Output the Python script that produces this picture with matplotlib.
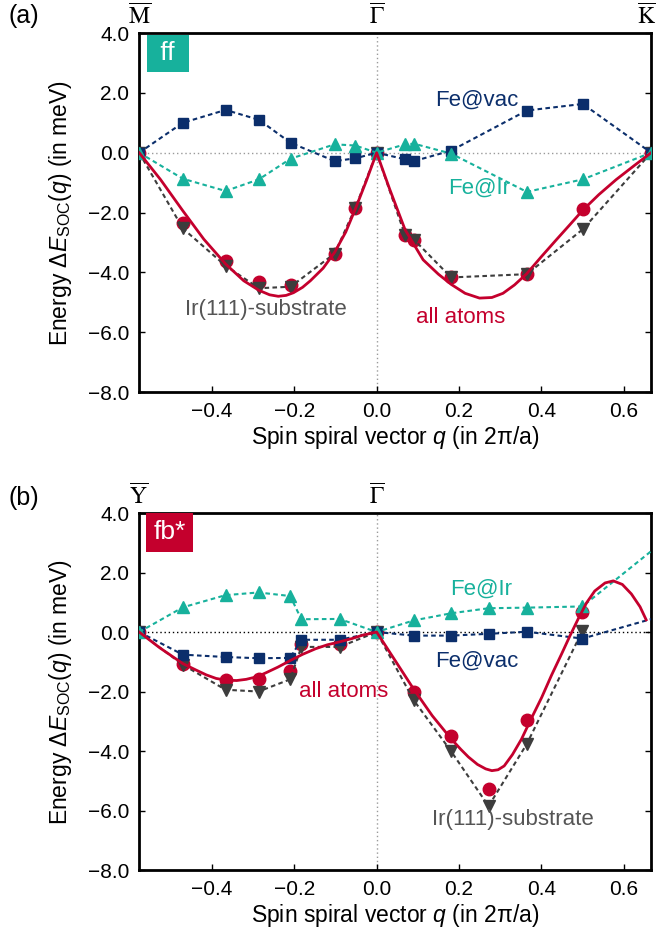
import numpy as np
import matplotlib.pyplot as plt

plt.rcParams['font.family'] = ['Liberation Sans', 'DejaVu Sans']
plt.rcParams['mathtext.fontset'] = 'custom'
plt.rcParams['mathtext.rm'] = 'Liberation Sans'
plt.rcParams['mathtext.it'] = 'Liberation Sans:italic'

c_vac = '#0b2e6b'
c_ir = '#17b19c'
c_sub = '#3d3d3d'
c_all = '#c4002d'

# ---- panel (a): ff ----
qa = [-0.577, -0.471, -0.367, -0.286, -0.209, -0.102, -0.052, 0.0,
      0.069, 0.091, 0.181, 0.365, 0.501, 0.667]
a_vac = [0.0, 1.0, 1.43, 1.1, 0.33, -0.28, -0.19, 0.0,
         -0.22, -0.28, 0.07, 1.41, 1.63, 0.0]
a_ir = [0.0, -0.87, -1.28, -0.89, -0.2, 0.28, 0.24, 0.0,
        0.28, 0.3, -0.03, -1.31, -0.89, 0.0]
a_sub = [0.0, -2.53, -3.78, -4.53, -4.48, -3.37, -1.85, 0.0,
         -2.76, -2.91, -4.17, -4.06, -2.56, 0.0]
a_all = [0.0, -2.36, -3.61, -4.33, -4.42, -3.39, -1.85, 0.0,
         -2.76, -2.91, -4.17, -4.06, -1.87, 0.0]
# fit curve
a_fit_q = [-0.577, -0.525, -0.471, -0.42, -0.367, -0.323, -0.286, -0.26,
           -0.239, -0.22, -0.202, -0.18, -0.161, -0.13, -0.102, -0.075,
           -0.052, -0.025, 0.0,
           0.032, 0.069, 0.113, 0.15, 0.181, 0.215, 0.25, 0.28, 0.307,
           0.335, 0.365, 0.4, 0.436, 0.47, 0.501, 0.54, 0.582, 0.625, 0.667]
a_fit_e = [0.0, -0.9, -1.94, -2.89, -3.72, -4.28, -4.6, -4.75,
           -4.8, -4.77, -4.68, -4.5, -4.28, -3.86, -3.33, -2.65,
           -1.89, -0.94, 0.0,
           -1.23, -2.57, -3.58, -4.06, -4.4, -4.7, -4.86, -4.84, -4.7,
           -4.42, -4.04, -3.48, -2.92, -2.4, -1.92, -1.4, -0.9, -0.44, 0.0]

# ---- panel (b): fb* ----
qb = [-0.577, -0.471, -0.367, -0.287, -0.21, -0.183, -0.09, 0.0,
      0.09, 0.181, 0.272, 0.365, 0.5]
b_vac = [0.0, -0.76, -0.84, -0.88, -0.87, -0.26, -0.26, 0.0,
         -0.12, -0.12, -0.06, 0.01, -0.22]
b_ir = [0.0, 0.83, 1.24, 1.33, 1.21, 0.43, 0.44, 0.0,
        0.39, 0.63, 0.8, 0.82, 0.86]
b_sub = [0.0, -1.1, -1.94, -2.0, -1.59, -0.5, -0.5, 0.0,
         -2.29, -4.01, -5.85, -3.76, 0.04]
b_all = [0.0, -1.06, -1.61, -1.59, -1.31, -0.39, -0.39, 0.0,
         -2.0, -3.51, -5.26, -2.96, 0.66]
# next points lie outside the plotted range
qb_ext = [0.75]
b_vac_ext = [0.76]
b_ir_ext = [3.64]
b_fit_q = [-0.577, -0.527, -0.471, -0.44, -0.414, -0.39, -0.365, -0.34,
           -0.317, -0.29, -0.269, -0.24, -0.21, -0.18, -0.148, -0.12,
           -0.09, -0.06, -0.035, 0.0,
           0.046, 0.09, 0.135, 0.181, 0.205, 0.223, 0.245, 0.265, 0.28,
           0.295, 0.31, 0.33, 0.352, 0.375, 0.401, 0.425, 0.45, 0.47, 0.49,
           0.51, 0.53, 0.555, 0.575, 0.597, 0.619, 0.64, 0.655]
b_fit_e = [0.0, -0.53, -1.06, -1.27, -1.44, -1.56, -1.62, -1.63,
           -1.59, -1.5, -1.37, -1.18, -0.96, -0.75, -0.56, -0.43,
           -0.33, -0.22, -0.11, 0.0,
           -0.98, -1.92, -2.81, -3.59, -3.95, -4.2, -4.45, -4.6, -4.66,
           -4.63, -4.5, -4.12, -3.6, -2.93, -2.2, -1.45, -0.72, -0.12, 0.45,
           0.98, 1.38, 1.65, 1.72, 1.6, 1.28, 0.85, 0.41]

fig = plt.figure(figsize=(6.56, 9.52), dpi=100)
axa = fig.add_axes([0.2119, 0.5882, 0.7805, 0.3771])
axb = fig.add_axes([0.2119, 0.0861, 0.7805, 0.3750])

dash = (0, (2.2, 1.6))


def series(ax, q, e, color, marker, ms, z):
    ax.plot(q, e, linestyle=dash, color=color, lw=1.5, marker=marker,
            ms=ms, mec=color, mfc=color, zorder=z)


def style(ax, top_labels, top_pos, zero_color):
    ax.set_xlim(-0.5774, 0.6667)
    ax.set_ylim(-8, 4)
    ax.axvline(0, color='#9a9a9a', ls=(0, (1, 2)), lw=1, zorder=1)
    ax.axhline(0, color=zero_color, ls=(0, (1, 2)), lw=1, zorder=1)
    ax.set_xticks([-0.4, -0.2, 0.0, 0.2, 0.4, 0.6])
    ax.set_xticklabels(['\u22120.4', '\u22120.2', '0.0', '0.2', '0.4', '0.6'])
    yt = [4, 2, 0, -2, -4, -6, -8]
    ax.set_yticks(yt)
    ax.set_yticklabels([('%.1f' % v).replace('-', '\u2212') for v in yt])
    ax.tick_params(direction='in', length=4, width=1, labelsize=15,
                   right=True, top=False, pad=7)
    for s in ax.spines.values():
        s.set_linewidth(2)
    ax.set_xlabel('Spin spiral vector $q$ (in 2\u03c0/a)', fontsize=16.5,
                  labelpad=2)
    ax.set_ylabel(r'Energy $\Delta E_{\rm SOC}(q)$ (in meV)', fontsize=16.5,
                  labelpad=10)
    for lab, p in zip(top_labels, top_pos):
        ha = 'center'
        if p > 0.6:
            ha = 'right'
            p = p + 0.012
        ax.text(p, 4.12, lab, ha=ha, va='bottom', fontsize=17,
                math_fontfamily='stix')


# panel (a)
style(axa, ['$\\overline{\\rm M}$', '$\\overline{\\Gamma}$',
            '$\\overline{\\rm K}$'], [-0.5774, 0.0, 0.6667], '#9a9a9a')
series(axa, qa, a_vac, c_vac, 's', 7, 4)
series(axa, qa, a_ir, c_ir, '^', 8, 4)
series(axa, qa, a_sub, c_sub, 'v', 8, 3)
axa.plot(qa, a_all, 'o', color=c_all, ms=9, zorder=2)
axa.plot(a_fit_q, a_fit_e, '-', color=c_all, lw=2, zorder=5)
axa.text(0.243, 1.77, 'Fe@vac', color=c_vac, fontsize=16, ha='center',
         va='center')
axa.text(0.25, -1.17, 'Fe@Ir', color=c_ir, fontsize=16, ha='center',
         va='center')
axa.text(-0.268, -5.23, 'Ir(111)-substrate', color='#555555', fontsize=16,
         ha='center', va='center')
axa.text(0.204, -5.5, 'all atoms', color=c_all, fontsize=16, ha='center',
         va='center')
axa.text(-0.543, 3.32, ' ff ', color='white', fontsize=19, va='center',
         bbox=dict(boxstyle='square,pad=0.25', fc=c_ir, ec='none'))
fig.text(0.013, 0.996, '(a)', fontsize=18, va='top')

# panel (b)
style(axb, ['$\\overline{\\rm Y}$', '$\\overline{\\Gamma}$'],
      [-0.5774, 0.0], 'black')
series(axb, qb + qb_ext, b_vac + b_vac_ext, c_vac, 's', 7, 4)
series(axb, qb + qb_ext, b_ir + b_ir_ext, c_ir, '^', 8, 4)
series(axb, qb, b_sub, c_sub, 'v', 8, 3)
axb.plot(qb, b_all, 'o', color=c_all, ms=9, zorder=2)
axb.plot(b_fit_q, b_fit_e, '-', color=c_all, lw=2, zorder=5)
axb.text(0.255, 1.43, 'Fe@Ir', color=c_ir, fontsize=16, ha='center',
         va='center')
axb.text(0.243, -0.98, 'Fe@vac', color=c_vac, fontsize=16, ha='center',
         va='center')
axb.text(-0.081, -2.0, 'all atoms', color=c_all, fontsize=16, ha='center',
         va='center')
axb.text(0.331, -6.3, 'Ir(111)-substrate', color='#555555', fontsize=16,
         ha='center', va='center')
axb.text(-0.543, 3.35, 'fb*', color='white', fontsize=19, va='center',
         bbox=dict(boxstyle='square,pad=0.28', fc=c_all, ec='none'))
fig.text(0.013, 0.489, '(b)', fontsize=18, va='top')

fig.savefig('out.png', dpi=100)
